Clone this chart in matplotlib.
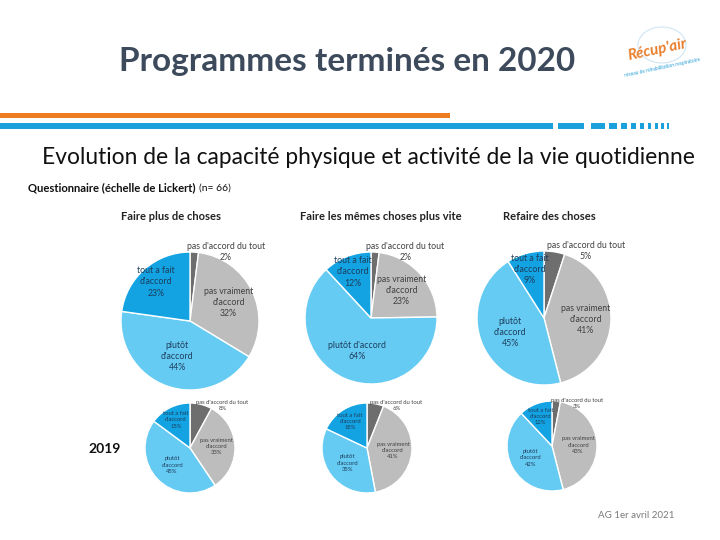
import numpy as np
import matplotlib
matplotlib.use('Agg')
import matplotlib.pyplot as plt
from matplotlib.patches import Rectangle, Circle

plt.rcParams['font.family'] = ['Lato', 'DejaVu Sans']

# categories, clockwise from 12 o'clock
categories = ["pas d'accord du tout", "pas vraiment\nd'accord", "plutôt\nd'accord", "tout a fait\nd'accord"]
colors = ["#6e6e6e", "#bdbdbd", "#66cbf3", "#13a3e2"]

titles_2020 = ["Faire plus de choses", "Faire les mêmes choses plus vite", "Refaire des choses"]
values_2020 = [
    [2, 32, 44, 23],
    [2, 23, 64, 12],
    [5, 41, 45, 9],
]
values_2019 = [
    [8, 33, 45, 15],
    [6, 41, 35, 18],
    [3, 43, 42, 12],
]

W, H = 720, 540
fig = plt.figure(figsize=(7.2, 5.4), dpi=100)
fig.patch.set_facecolor("white")


def px(x, y):
    return x / W, 1 - y / H


def draw_pie(cx, cy, r, vals, fs, label_r=(1.0, 0.62, 0.55, 0.75)):
    ax = fig.add_axes([(cx - r) / W, 1 - (cy + r) / H, 2 * r / W, 2 * r / H])
    wedges, _ = ax.pie(vals, colors=colors, startangle=90, counterclock=False,
                       wedgeprops=dict(edgecolor="white", linewidth=1.0))
    ax.set_aspect("equal")
    ax.set_xlim(-1, 1); ax.set_ylim(-1, 1)
    ax.axis("off")
    for i, (w, v) in enumerate(zip(wedges, vals)):
        mid = np.deg2rad((w.theta1 + w.theta2) / 2)
        rr = label_r[i]
        name = categories[i]
        if v > 60:
            name = name.replace("\n", " ")
        txt = f"{name}\n{v}%"
        col = "#404040" if i < 2 else "#1d3d5c"
        if i == 0:
            x, y = 1.1 * np.cos(mid) + 0.45, rr
        else:
            x, y = rr * np.cos(mid), rr * np.sin(mid)
        ax.text(x, y, txt, ha="center", va="center", fontsize=fs,
                color=col, linespacing=1.3, clip_on=False)
    return ax


# header
fig.text(*px(347, 62), "Programmes terminés en 2020", ha="center", va="center",
         fontsize=24, fontweight="bold", color="#3c4a5c")
fig.add_artist(Circle(px(662, 45), 24 / W, transform=fig.transFigure,
                      fill=False, ec="#cfe6f3", lw=0.8))
fig.text(*px(657, 50), "Récup'air", ha="center", va="center", fontsize=11,
         fontweight="bold", color="#e87d2a", rotation=12, fontstyle="italic")
fig.text(*px(662, 67), "réseau de réhabilitation respiratoire", ha="center", va="center",
         fontsize=3.5, color="#2a9fd6", rotation=12)

# decorative bars
fig.add_artist(Rectangle(px(0, 118), 450 / W, 5 / H, transform=fig.transFigure,
                         color="#ee7d22", lw=0))
fig.add_artist(Rectangle(px(0, 129), 553 / W, 6 / H, transform=fig.transFigure,
                         color="#1aa1dc", lw=0))
for x0, w in [(558, 26), (591, 14), (609, 8), (621, 6), (631, 5), (640, 4),
              (648, 3), (655, 3), (661, 3), (667, 2)]:
    fig.add_artist(Rectangle(px(x0, 129), w / W, 6 / H, transform=fig.transFigure,
                             color="#1aa1dc", lw=0))

fig.text(*px(42, 158), "Evolution de la capacité physique et activité de la vie quotidienne",
         ha="left", va="center", fontsize=16.4, color="#111111")
fig.text(*px(28, 188), "Questionnaire (échelle de Lickert)", ha="left", va="center",
         fontsize=8.1, fontweight="bold", color="#111111")
fig.text(*px(199, 188), "(n= 66)", ha="left", va="center", fontsize=7.5, color="#111111")

# 2020 pies
title_pos = [(121, 216), (300, 216), (503, 216)]
centers_2020 = [(190, 321), (371, 318), (544, 318)]
radii_2020 = [69, 66, 67]
for t, (tx, ty) in zip(titles_2020, title_pos):
    fig.text(*px(tx, ty), t, ha="left", va="center", fontsize=8, fontweight="bold",
             color="#222222")
for (cx, cy), r, vals in zip(centers_2020, radii_2020, values_2020):
    draw_pie(cx, cy, r, vals, 6.3)

# 2019 pies
centers_2019 = [(190, 448), (367, 448), (552, 446)]
for (cx, cy), vals in zip(centers_2019, values_2019):
    draw_pie(cx, cy, 45, vals, 4.2, label_r=(0.95, 0.58, 0.55, 0.7))

fig.text(*px(88, 449), "2019", ha="left", va="center", fontsize=10, fontweight="bold",
         color="#111111")
fig.text(*px(636, 515), "AG 1er avril 2021", ha="center", va="center", fontsize=7,
         color="#7a7a7a")

fig.savefig("out.png", dpi=100)
